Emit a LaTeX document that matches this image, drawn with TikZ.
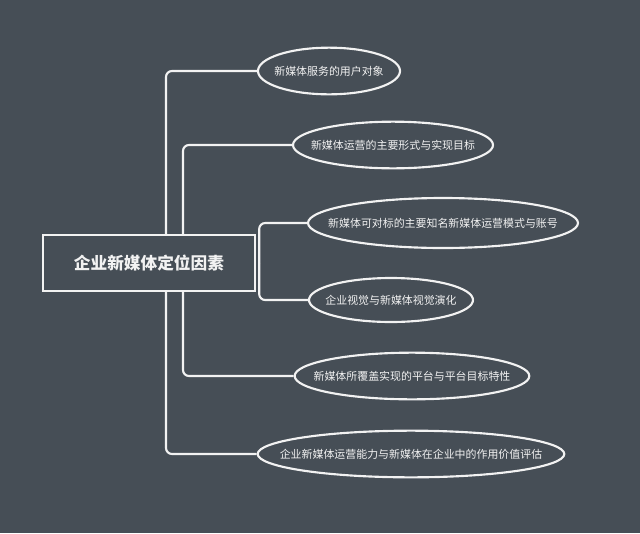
\documentclass[tikz,border=0pt]{standalone}
\usepackage{fontspec}
\usepackage{tikz}
\usetikzlibrary{shapes.geometric}
\newfontfamily\cjk{Noto Sans CJK SC}
\definecolor{slate}{HTML}{464E56}
\definecolor{chalk}{HTML}{F2F2F2}

\tikzset{
  link/.style={draw=chalk, line width=1.6pt, rounded corners=4.5pt},
  rootbox/.style={draw=chalk, line width=1.8pt, fill=slate, text=chalk,
    minimum width=159pt, minimum height=42pt, inner sep=0pt,
    font=\cjk\fontsize{12.5pt}{14pt}\selectfont\bfseries},
  leaf/.style={draw=chalk, line width=1.6pt, ellipse, fill=slate, inner sep=0pt,
    minimum height=35pt,
    label={[text=chalk, font=\cjk\fontsize{8.2pt}{10pt}\selectfont]center:#1}},
}

\begin{document}
\begin{tikzpicture}[x=0.75pt,y=0.75pt,yscale=-1,xscale=1]
%background and page size
\path[fill=slate] (0,0) rectangle (640,533);

%root
\node[rootbox] (root) at (149,263) {企业新媒体定位因素};

%leaves
\node[leaf={新媒体服务的用户对象}, minimum width=106.5pt] (e1) at (329,71) {};
\node[leaf={新媒体运营的主要形式与实现目标}, minimum width=150pt] (e2) at (393,145) {};
\node[leaf={新媒体可对标的主要知名新媒体运营模式与账号}, minimum width=202.5pt, minimum height=37.5pt] (e3) at (443,223) {};
\node[leaf={企业视觉与新媒体视觉演化}, minimum width=123pt, minimum height=33pt] (e4) at (391,300) {};
\node[leaf={新媒体所覆盖实现的平台与平台目标特性}, minimum width=176pt] (e5) at (412,376) {};
\node[leaf={企业新媒体运营能力与新媒体在企业中的作用价值评估}, minimum width=230pt] (e6) at (411,454) {};

%connectors
\draw[link] ([xshift=12.75pt]root.north) |- (e1.west);
\draw[link] ([xshift=25.5pt]root.north) |- (e2.west);
\draw[link] ([xshift=2.25pt]root.east) |- (e3.west);
\draw[link] ([xshift=2.25pt]root.east) |- (e4.west);
\draw[link] ([xshift=25.5pt]root.south) |- (e5.west);
\draw[link] ([xshift=12.75pt]root.south) |- (e6.west);
\end{tikzpicture}
\end{document}
